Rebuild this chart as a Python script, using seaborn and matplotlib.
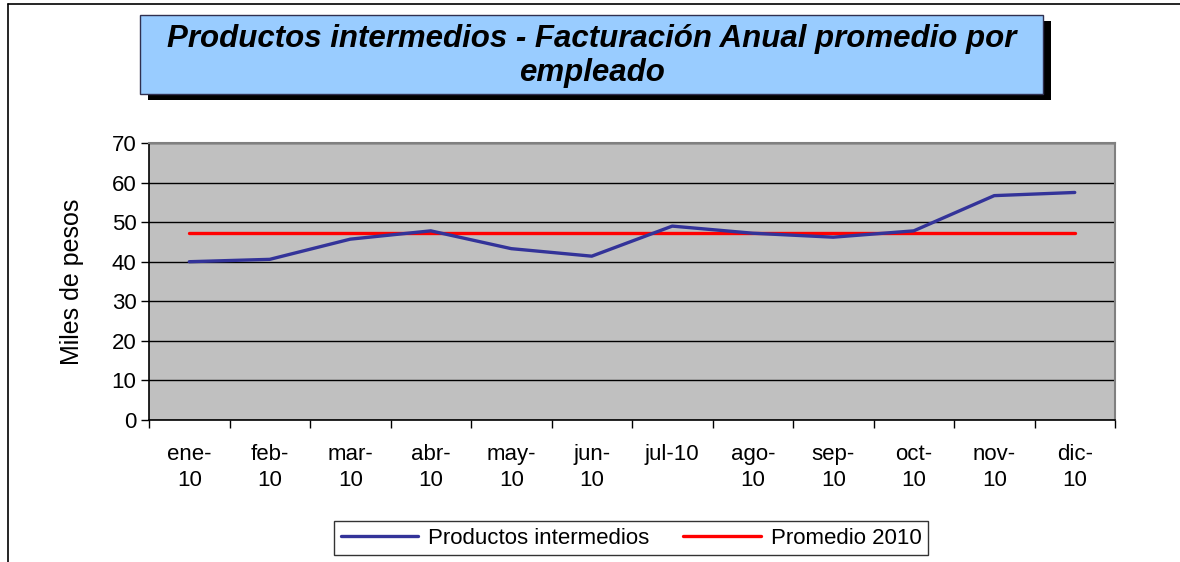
import matplotlib
matplotlib.use("Agg")
import matplotlib.pyplot as plt
from matplotlib.patches import Rectangle
from matplotlib.lines import Line2D
import seaborn as sns
import pandas as pd

# data
months = ["ene-\n10", "feb-\n10", "mar-\n10", "abr-\n10", "may-\n10", "jun-\n10",
          "jul-10", "ago-\n10", "sep-\n10", "oct-\n10", "nov-\n10", "dic-\n10"]
productos = [40.0, 40.6, 45.7, 47.8, 43.3, 41.4, 49.0, 47.2, 46.2, 47.8, 56.7, 57.5]
promedio_2010 = 47.2

W, H = 1180, 562

sns.set_style("white")
plt.rcParams["font.family"] = ["Liberation Sans", "DejaVu Sans"]
plt.rcParams.update({"text.color": "black", "axes.labelcolor": "black",
                     "xtick.color": "black", "ytick.color": "black"})

df = pd.DataFrame({
    "pos": list(range(len(months))),
    "Productos intermedios": productos,
    "Promedio 2010": [promedio_2010] * len(months),
})

fig = plt.figure(figsize=(W / 100, H / 100), dpi=100)
ax = fig.add_axes([149 / W, 1 - 420 / H, (1115 - 149) / W, (420 - 143) / H])
ax.set_facecolor("#C0C0C0")

sns.lineplot(data=df, x="pos", y="Productos intermedios", color="#333399",
             linewidth=2.4, ax=ax, zorder=3)
sns.lineplot(data=df, x="pos", y="Promedio 2010", color="#FF0000",
             linewidth=2.4, ax=ax, zorder=2)

ax.set_xlim(-0.5, len(months) - 0.5)
ax.set_ylim(0, 70)
ax.set_yticks(range(0, 71, 10))
ax.tick_params(axis="y", labelsize=16, length=6, width=1, color="black",
               direction="out", left=True, pad=3)
ax.yaxis.grid(True, color="black", linewidth=1)
ax.set_axisbelow(True)

ax.set_xticks(range(len(months)))
ax.set_xticklabels(months, fontsize=16, linespacing=1.35)
ax.set_xticks([i - 0.5 for i in range(len(months) + 1)], minor=True)
ax.tick_params(axis="x", which="major", length=0, pad=17)
ax.tick_params(axis="x", which="minor", length=6, width=1, color="black",
               direction="out", bottom=True)
ax.set_xlabel("")
ax.set_ylabel("Miles de pesos", fontsize=18, labelpad=20)

for side in ["left", "bottom"]:
    ax.spines[side].set_color("black")
    ax.spines[side].set_linewidth(1.2)
for side in ["right", "top"]:
    ax.spines[side].set_color("#808080")
    ax.spines[side].set_linewidth(1.5)

# legend
handles = [Line2D([], [], color="#333399", linewidth=2.4),
           Line2D([], [], color="#FF0000", linewidth=2.4)]
leg = fig.legend(handles, ["Productos intermedios", "Promedio 2010"],
                 loc="center", bbox_to_anchor=(631 / W, 1 - 538 / H), ncol=2,
                 fontsize=16, frameon=True, fancybox=False, edgecolor="black",
                 handlelength=3.5, columnspacing=1.5, handletextpad=0.45,
                 borderpad=0.3, borderaxespad=0)
leg.get_frame().set_linewidth(1)

# outer chart border (left and top only visible)
fig.add_artist(Line2D([8 / W, 8 / W], [0, 1 - 4 / H], color="black",
                      linewidth=1.2, transform=fig.transFigure))
fig.add_artist(Line2D([8 / W, 1], [1 - 4 / H, 1 - 4 / H], color="black",
                      linewidth=1.2, transform=fig.transFigure))

# title box with shadow
bx0, bx1, by0, by1 = 140, 1043, 15, 94
fig.add_artist(Rectangle(((bx0 + 8) / W, 1 - (by1 + 6) / H), (bx1 - bx0) / W,
                         (by1 - by0) / H, facecolor="black", edgecolor="none",
                         transform=fig.transFigure))
fig.add_artist(Rectangle((bx0 / W, 1 - by1 / H), (bx1 - bx0) / W,
                         (by1 - by0) / H, facecolor="#99CCFF",
                         edgecolor="#303050", linewidth=1,
                         transform=fig.transFigure))
fig.text((bx0 + bx1) / 2 / W, 1 - 56 / H,
         "Productos intermedios - Facturación Anual promedio por\nempleado",
         ha="center", va="center", fontsize=22.5, fontweight="bold",
         fontstyle="italic", linespacing=1.15, color="black")

fig.savefig("out.png", dpi=100)
